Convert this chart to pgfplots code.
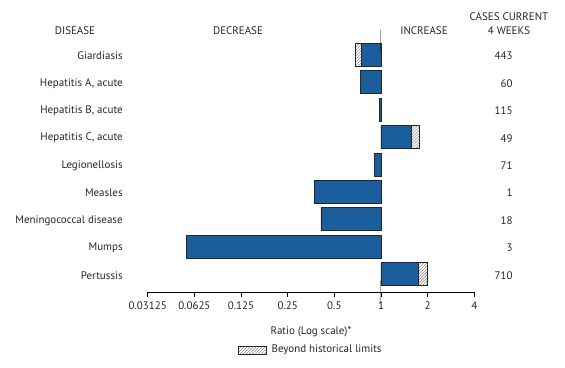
\documentclass[border=0pt]{standalone}
\usepackage{pgfplots}
\pgfplotsset{compat=1.18}
\usetikzlibrary{patterns}
\usepackage{fontspec}
\setmainfont{PT Sans}
\definecolor{barblue}{RGB}{26,94,158}
\begin{document}
\begin{tikzpicture}[x=1bp,y=1bp,font=\fontsize{11}{13}\selectfont]
\useasboundingbox (0,0) rectangle (565,367);
\begin{axis}[
  at={(147.7bp,75bp)}, anchor=south west,
  scale only axis, width=326.6bp, height=249.9bp,
  xmode=log, log basis x=2, log origin x=0,
  xmin=0.03125, xmax=4,
  ymin=0.53, ymax=9.65, y dir=reverse,
  axis y line=none, axis x line*=bottom,
  xtick={0.03125,0.0625,0.125,0.25,0.5,1,2,4},
  xticklabels={0.03125,0.0625,0.125,0.25,0.5,1,2,4},
  minor xtick={},
  tick align=outside, major tick length=5bp,
  x axis line style={line width=0.8bp,black},
  xtick style={line width=0.8bp,black},
  /pgf/number format/assume math mode=true,
  ticklabel style={font=\fontsize{11}{13}\selectfont, text=black!85},
  xticklabel style={yshift=-1bp},
  xbar, bar width=23bp, bar shift=0pt,
  clip=false,
]
% hatched portions (beyond historical limits), drawn first
\addplot[draw=black!85, line width=0.8bp, pattern=north east lines, pattern color=black!55]
  coordinates {(0.684,1) (1.78,4) (2.0,9)};
% blue bars
\addplot[draw=black!85, line width=0.8bp, fill=barblue]
  coordinates {(0.749,1) (0.733,2) (0.973,3) (1.56,4) (0.913,5) (0.371,6) (0.41,7) (0.0555,8) (1.75,9)};
% vertical reference line at ratio 1
\addplot[black, line width=1bp, xbar=false, no marks] coordinates {(1,0.5) (1,9.65)};
\foreach \lab [count=\i] in {Giardiasis,{Hepatitis A, acute},{Hepatitis B, acute},{Hepatitis C, acute},Legionellosis,Measles,Meningococcal disease,Mumps,Pertussis}{
  \edef\tmp{\noexpand\node[anchor=east, xshift=-21.5bp, yshift=-1bp, text=black!85] at (axis cs:0.03125,\i) {\lab};}
  \tmp
}
\foreach \n [count=\i] in {443,60,115,49,71,1,18,3,710}{
  \edef\tmp{\noexpand\node[anchor=east, text=black!85, yshift=-1bp] at (axis cs:0.03125,\i) [xshift=368.3bp] {\n};}
  \tmp
}
\end{axis}
% headers
\node[text=black!85] at (75,336) {DISEASE};
\node[text=black!85] at (238,336) {DECREASE};
\node[text=black!85] at (424,336) {INCREASE};
\node[text=black!85] at (509,350.5) {CASES CURRENT};
\node[text=black!85] at (509,336) {4 WEEKS};
% axis title
\node[text=black!85] at (311,35) {Ratio (Log scale)*};
% legend
\draw[draw=black!85, line width=0.8bp, pattern=north east lines, pattern color=black!55] (238.3,13) rectangle (266.7,20.7);
\node[anchor=west, text=black!85, inner sep=0pt] at (271.5,17) {Beyond historical limits};
\end{tikzpicture}
\end{document}
